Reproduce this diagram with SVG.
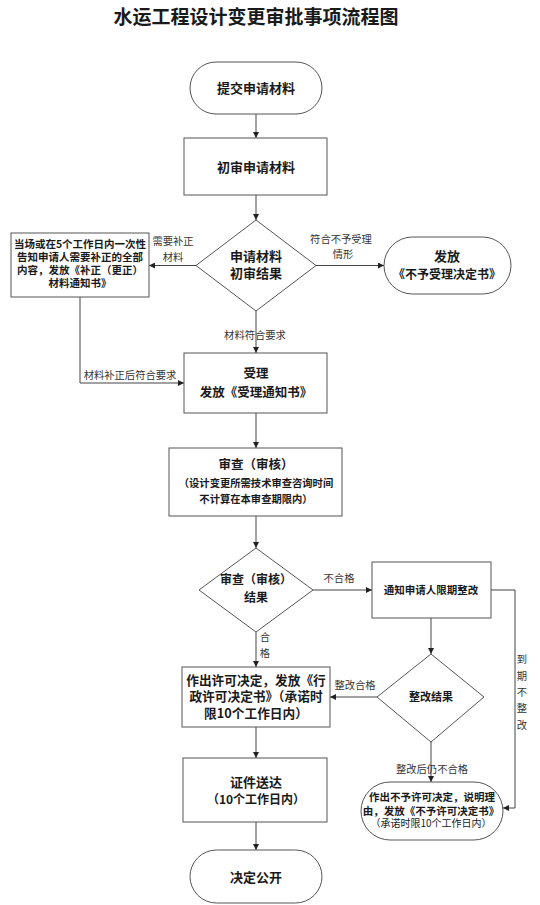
<svg xmlns="http://www.w3.org/2000/svg" width="540" height="905" viewBox="0 0 540 905">
<defs>
<style>
.sh{fill:#fff;stroke:#555;stroke-width:1}
.cn{fill:none;stroke:#444;stroke-width:1}
.t{font-family:"Noto Sans CJK SC","Noto Sans",sans-serif;font-weight:bold;fill:#1a1a1a;text-anchor:middle}
.l{font-family:"Noto Sans CJK SC","Noto Sans",sans-serif;font-size:10.3px;fill:#333;text-anchor:middle}
</style>
<marker id="ah" markerWidth="6" markerHeight="6" refX="6" refY="3" orient="auto" markerUnits="userSpaceOnUse">
<path d="M0,0 L6,3 L0,6 z" fill="#222"/>
</marker>
</defs>
<rect width="540" height="905" fill="#fff"/>
<text class="t" x="256" y="24" style="font-size:19px">水运工程设计变更审批事项流程图</text>

<g id="connectors">
<path class="cn" d="M256,114 V138" marker-end="url(#ah)"/>
<path class="cn" d="M256,195 V220" marker-end="url(#ah)"/>
<path class="cn" d="M196,265.5 H149" marker-end="url(#ah)"/>
<path class="cn" d="M316,265.5 H384" marker-end="url(#ah)"/>
<path class="cn" d="M256,311 V353" marker-end="url(#ah)"/>
<path class="cn" d="M80,297 V383 H184" marker-end="url(#ah)"/>
<path class="cn" d="M256,413 V448" marker-end="url(#ah)"/>
<path class="cn" d="M256,516 V548" marker-end="url(#ah)"/>
<path class="cn" d="M313,590 H372" marker-end="url(#ah)"/>
<path class="cn" d="M256,632 V667" marker-end="url(#ah)"/>
<path class="cn" d="M431,618 V654" marker-end="url(#ah)"/>
<path class="cn" d="M377,697 H330" marker-end="url(#ah)"/>
<path class="cn" d="M431,742 V782" marker-end="url(#ah)"/>
<path class="cn" d="M491,590 H515 V808 H503" marker-end="url(#ah)"/>
<path class="cn" d="M256,727 V758" marker-end="url(#ah)"/>
<path class="cn" d="M256,822 V850" marker-end="url(#ah)"/>
<text class="l" x="173" y="244.7">需要补正</text>
<text class="l" x="173" y="260.7">材料</text>
<text class="l" x="341" y="242.7">符合不予受理</text>
<text class="l" x="343" y="257.7">情形</text>
<text class="l" x="255" y="338.7">材料符合要求</text>
<text class="l" x="130" y="378.7">材料补正后符合要求</text>
<text class="l" x="339" y="581.7">不合格</text>
<text class="l" x="265" y="640.7">合</text>
<text class="l" x="265" y="656.7">格</text>
<text class="l" x="355" y="688.7">整改合格</text>
<text class="l" x="432" y="772.7">整改后仍不合格</text>
<text class="l" x="522" y="662.7">到</text>
<text class="l" x="522" y="679.7">期</text>
<text class="l" x="522" y="695.7">不</text>
<text class="l" x="522" y="711.7">整</text>
<text class="l" x="522" y="728.7">改</text>
</g>

<g id="n1">
<rect class="sh" x="190" y="62" width="132" height="52" rx="26"/>
<text class="t" x="256" y="92.7" style="font-size:13px">提交申请材料</text>
</g>
<g id="n2">
<rect class="sh" x="184" y="138" width="143" height="57"/>
<text class="t" x="256" y="171.7" style="font-size:13px">初审申请材料</text>
</g>
<g id="n3">
<polygon class="sh" points="256,220 316,265.5 256,311 196,265.5"/>
<text class="t" x="256" y="260.7" style="font-size:13px">申请材料</text>
<text class="t" x="256" y="277.7" style="font-size:13px">初审结果</text>
</g>
<g id="n4">
<rect class="sh" x="11" y="233" width="138" height="64"/>
<text class="t" x="80" y="247.8" style="font-size:10.5px">当场或在5个工作日内一次性</text>
<text class="t" x="80" y="260.8" style="font-size:10.5px">告知申请人需要补正的全部</text>
<text class="t" x="80" y="273.8" style="font-size:10.5px">内容，发放《补正（更正）</text>
<text class="t" x="80" y="286.8" style="font-size:10.5px">材料通知书》</text>
</g>
<g id="n5">
<rect class="sh" x="384" y="237" width="127" height="57" rx="28.5"/>
<text class="t" x="447" y="260.7" style="font-size:13px">发放</text>
<text class="t" x="447" y="279.3" style="font-size:12px">《不予受理决定书》</text>
</g>
<g id="n6">
<rect class="sh" x="184" y="353" width="143" height="60"/>
<text class="t" x="256" y="377.5" style="font-size:12.5px">受理</text>
<text class="t" x="256" y="396.5" style="font-size:12.5px">发放《受理通知书》</text>
</g>
<g id="n7">
<rect class="sh" x="169" y="448" width="173" height="68"/>
<text class="t" x="256" y="468.5" style="font-size:12.5px">审查（审核）</text>
<text class="t" x="256" y="486.7" style="font-size:10.3px">（设计变更所需技术审查咨询时间</text>
<text class="t" x="256" y="502.7" style="font-size:10.3px">不计算在本审查期限内）</text>
</g>
<g id="n8">
<polygon class="sh" points="256,548 313,590 256,632 199,590"/>
<text class="t" x="256" y="584.3" style="font-size:12px">审查（审核）</text>
<text class="t" x="256" y="602.3" style="font-size:12px">结果</text>
</g>
<g id="n9">
<rect class="sh" x="372" y="562" width="119" height="56"/>
<text class="t" x="431" y="593.8" style="font-size:10.5px">通知申请人限期整改</text>
</g>
<g id="n10">
<rect class="sh" x="182" y="667" width="148" height="60"/>
<text class="t" x="256" y="684.6" style="font-size:12.7px">作出许可决定，发放《行</text>
<text class="t" x="256" y="701.1" style="font-size:12.7px">政许可决定书》（承诺时</text>
<text class="t" x="256" y="717.6" style="font-size:12.7px">限10个工作日内）</text>
</g>
<g id="n11">
<polygon class="sh" points="431,654 484,697 431,742 377,697"/>
<text class="t" x="431" y="701" style="font-size:11px">整改结果</text>
</g>
<g id="n12">
<rect class="sh" x="361" y="782" width="142" height="58" rx="29"/>
<text class="t" x="432" y="801" style="font-size:10.5px">作出不予许可决定，说明理</text>
<text class="t" x="431" y="814.5" style="font-size:10.5px">由，发放《不予许可决定书》</text>
<text class="t" x="431" y="827" style="font-size:10px;font-weight:normal">（承诺时限10个工作日内）</text>
</g>
<g id="n13">
<rect class="sh" x="183" y="758" width="144" height="64"/>
<text class="t" x="256" y="786.7" style="font-size:13px">证件送达</text>
<text class="t" x="256" y="804.3" style="font-size:12px">（10个工作日内）</text>
</g>
<g id="n14">
<rect class="sh" x="190" y="850" width="132" height="53" rx="26.5"/>
<text class="t" x="256" y="881.7" style="font-size:13px">决定公开</text>
</g>
</svg>
